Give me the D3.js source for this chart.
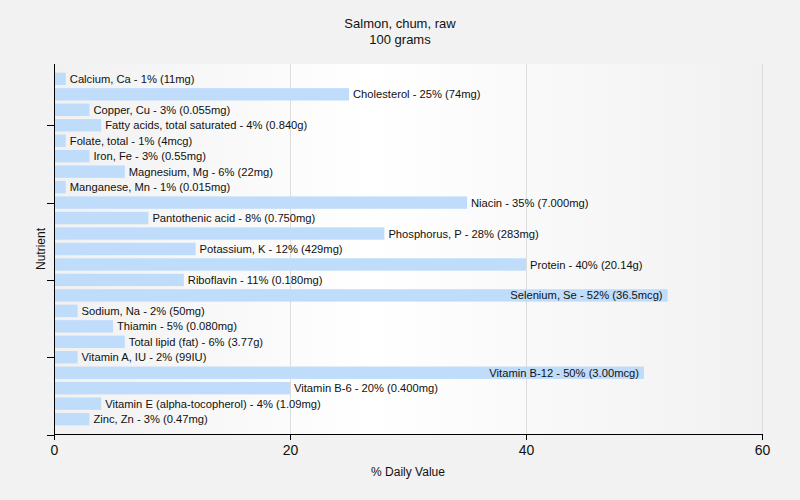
<!DOCTYPE html>
<html><head><meta charset="utf-8">
<script src="https://cdn.jsdelivr.net/npm/d3@7"></script>
<style>body{margin:0;background:#f2f2f2;}svg{display:block;font-family:"Liberation Sans",Arial,sans-serif;}</style>
</head><body>
<svg id="c" width="800" height="500"></svg>
<script>
const nutrients = ["Calcium, Ca","Cholesterol","Copper, Cu","Fatty acids, total saturated","Folate, total","Iron, Fe","Magnesium, Mg","Manganese, Mn","Niacin","Pantothenic acid","Phosphorus, P","Potassium, K","Protein","Riboflavin","Selenium, Se","Sodium, Na","Thiamin","Total lipid (fat)","Vitamin A, IU","Vitamin B-12","Vitamin B-6","Vitamin E (alpha-tocopherol)","Zinc, Zn"];
const percents = [1,25,3,4,1,3,6,1,35,8,28,12,40,11,52,2,5,6,2,50,20,4,3];
const amounts = ["11mg","74mg","0.055mg","0.840g","4mcg","0.55mg","22mg","0.015mg","7.000mg","0.750mg","283mg","429mg","20.14g","0.180mg","36.5mcg","50mg","0.080mg","3.77g","99IU","3.00mcg","0.400mg","1.09mg","0.47mg"];
const xTicks = [0,20,40,60];
const title = ["Salmon, chum, raw","100 grams"];

const svg = d3.select("#c");
const L=54, R=762, T=64, B=434;
const x = d3.scaleLinear().domain([0,60]).range([L,R]);
const step = (B-T)/(nutrients.length+0.92);
const yi = d3.scaleLinear().domain([-0.5, nutrients.length-0.5]).range([T+ (B-T-step*nutrients.length)/2, B-(B-T-step*nutrients.length)/2]);

const defs = svg.append("defs");
const g = defs.append("linearGradient").attr("id","bg").attr("x1","0").attr("x2","1").attr("y1","0").attr("y2","0");
g.append("stop").attr("offset","0").attr("stop-color","#f1f1f1");
g.append("stop").attr("offset","0.45").attr("stop-color","#ffffff");
g.append("stop").attr("offset","1").attr("stop-color","#f1f1f1");

svg.append("rect").attr("x",L).attr("y",T).attr("width",R-L).attr("height",B-T).attr("fill","url(#bg)");

// gridlines
svg.append("g").selectAll("line").data(xTicks.slice(1)).join("line")
  .attr("x1",d=>x(d)+0.5).attr("x2",d=>x(d)+0.5).attr("y1",T).attr("y2",B)
  .attr("stroke","#dddddd").attr("stroke-width",1);

// bars
const bh = step*0.8;
svg.append("g").selectAll("rect").data(nutrients).join("rect")
  .attr("x",x(0)).attr("y",(d,i)=>yi(i)-bh/2).attr("width",(d,i)=>x(percents[i])-x(0)).attr("height",bh)
  .attr("fill","#c0dcfb");

// labels
const lab = svg.append("g").style("font-size","11.2px");
nutrients.forEach((n,i)=>{
  const s = `${n} - ${percents[i]}% (${amounts[i]})`;
  const t = lab.append("text").attr("y",yi(i)).attr("dy","0.36em").attr("fill","#111").text(s);
  const w = t.node().getComputedTextLength();
  const xe = x(percents[i]);
  if (xe+4+w > R) t.attr("x",xe-5).attr("text-anchor","end");
  else t.attr("x",xe+4);
});

// x axis
const xa = svg.append("g").attr("transform",`translate(0,${B})`)
  .call(d3.axisBottom(x).tickValues(xTicks).tickSize(6).tickPadding(5));
xa.select(".domain").attr("stroke","#000");
xa.selectAll("text").style("font-size","14px").attr("fill","#111").style("font-family","'Liberation Sans Narrow','Liberation Sans',sans-serif");
// y axis
const yTickIdx = [3,8,13,18,23];
svg.append("line").attr("x1",L+0.5).attr("x2",L+0.5).attr("y1",T).attr("y2",B).attr("stroke","#000");
svg.append("g").selectAll("line").data(yTickIdx).join("line")
  .attr("x1",L-7).attr("x2",L).attr("y1",d=>Math.round(yi(d))+0.5).attr("y2",d=>Math.round(yi(d))+0.5).attr("stroke","#000");

// titles
svg.append("text").attr("x",400).attr("y",28).attr("text-anchor","middle").style("font-size","13px").attr("fill","#111").text(title[0]);
svg.append("text").attr("x",400).attr("y",44).attr("text-anchor","middle").style("font-size","13px").attr("fill","#111").text(title[1]);
svg.append("text").attr("x",408).attr("y",476).attr("text-anchor","middle").style("font-size","12px").attr("fill","#111").text("% Daily Value");
svg.append("text").attr("transform","translate(45,249) rotate(-90)").attr("text-anchor","middle").style("font-size","12px").attr("fill","#111").text("Nutrient");
</script>
</body></html>
